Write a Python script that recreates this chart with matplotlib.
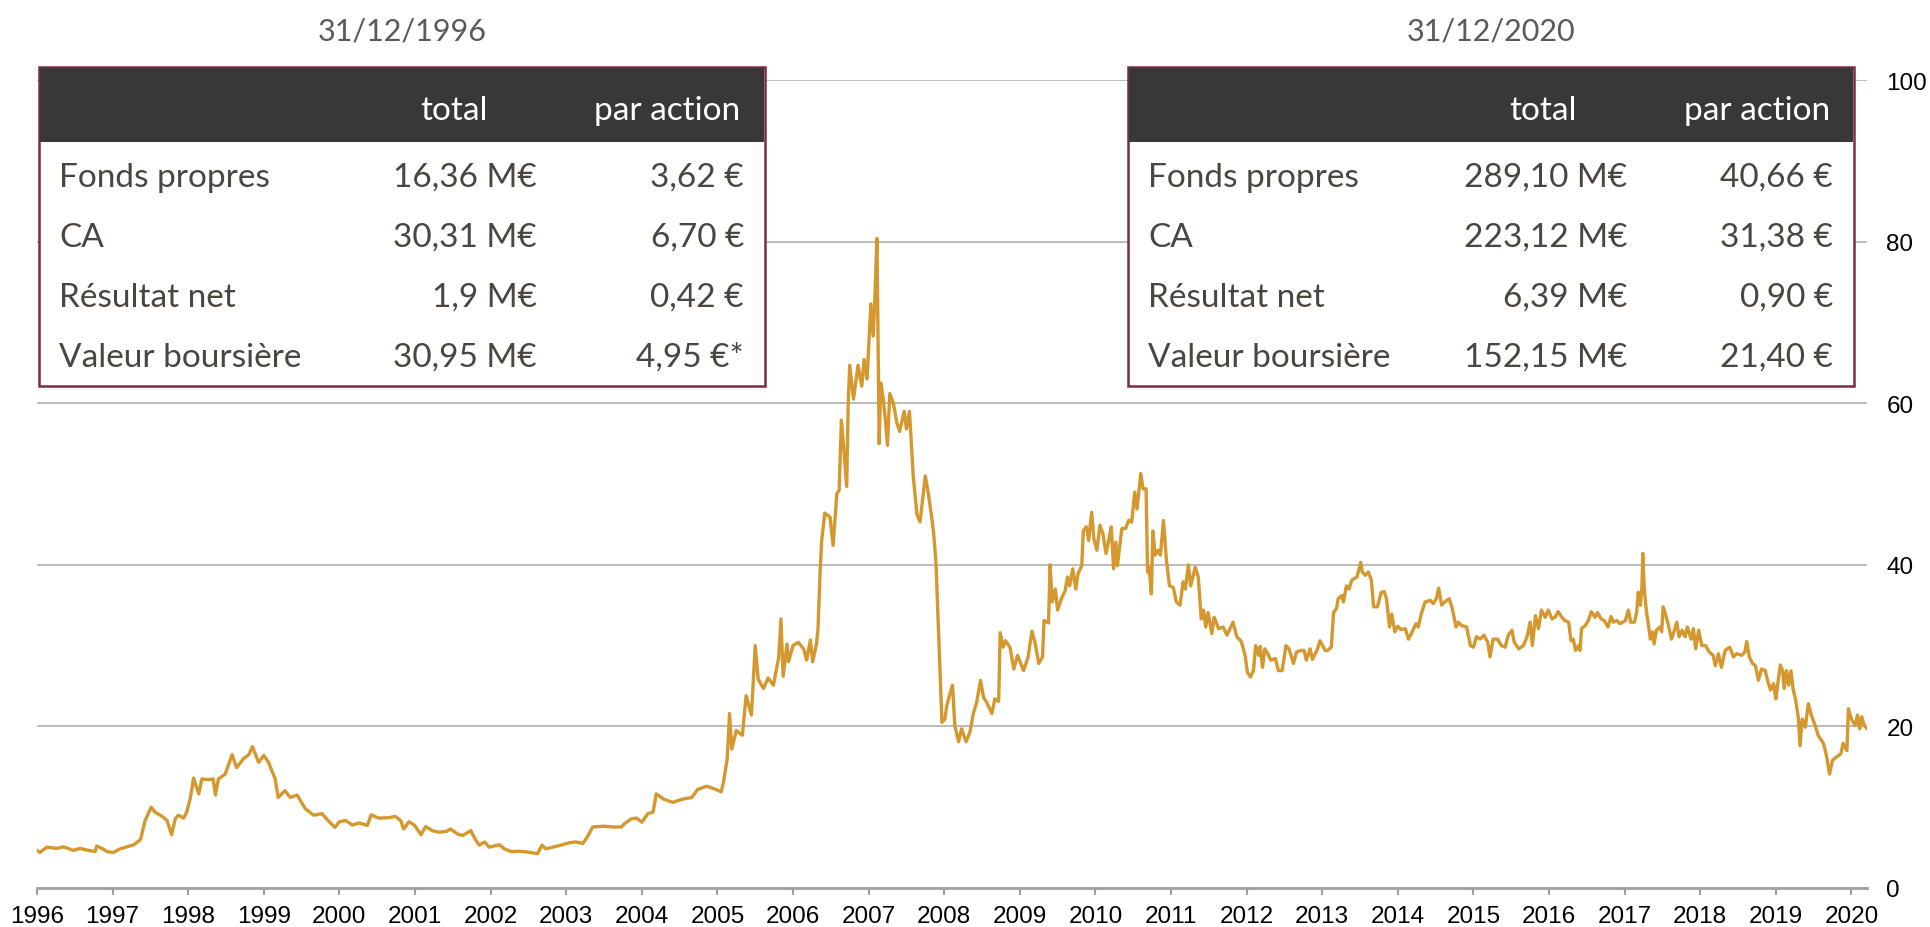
import matplotlib
matplotlib.use("Agg")
import matplotlib.pyplot as plt
from matplotlib.patches import Rectangle

# cours de l'action (annee decimale, valeur en euros)
dates = [
    1996.00, 1996.04, 1996.13, 1996.26, 1996.35, 1996.48, 1996.57, 1996.66, 1996.77, 1996.79,
    1996.86, 1996.93, 1997.01, 1997.10, 1997.19, 1997.28, 1997.37, 1997.43, 1997.51, 1997.56,
    1997.65, 1997.72, 1997.78, 1997.83, 1997.87, 1997.94, 1997.98, 1998.03, 1998.07, 1998.14,
    1998.18, 1998.27, 1998.33, 1998.36, 1998.40, 1998.49, 1998.58, 1998.64, 1998.73, 1998.80,
    1998.85, 1998.93, 1999.00, 1999.06, 1999.15, 1999.19, 1999.28, 1999.35, 1999.44, 1999.55,
    1999.66, 1999.77, 1999.85, 1999.94, 2000.00,
    2000.08, 2000.17, 2000.26, 2000.37, 2000.42, 2000.52, 2000.65, 2000.74, 2000.81, 2000.85,
    2000.92, 2000.99, 2001.08, 2001.14, 2001.23, 2001.32, 2001.41, 2001.47, 2001.56, 2001.63,
    2001.74, 2001.78, 2001.85, 2001.92, 2001.98, 2002.12, 2002.18, 2002.27, 2002.38, 2002.49,
    2002.62, 2002.68, 2002.73, 2002.82, 2002.93, 2003.04, 2003.13, 2003.22, 2003.29, 2003.35,
    2003.49, 2003.62, 2003.73, 2003.77, 2003.86, 2003.93, 2004.00, 2004.08, 2004.15, 2004.19,
    2004.29, 2004.41, 2004.54, 2004.66, 2004.74, 2004.86, 2004.98, 2005.05, 2005.08, 2005.13,
    2005.16, 2005.19, 2005.25,
    2005.33, 2005.38, 2005.45, 2005.50, 2005.54, 2005.61, 2005.67, 2005.74, 2005.81, 2005.84,
    2005.87, 2005.92, 2005.94, 2006.00, 2006.07, 2006.14, 2006.18, 2006.23, 2006.26, 2006.31,
    2006.33, 2006.36, 2006.38, 2006.42, 2006.49, 2006.53, 2006.58, 2006.61, 2006.64, 2006.67,
    2006.71, 2006.73, 2006.75, 2006.80, 2006.86, 2006.91, 2006.94, 2006.98, 2007.03, 2007.06,
    2007.08, 2007.11, 2007.12, 2007.14, 2007.16, 2007.19, 2007.22, 2007.25, 2007.28, 2007.33,
    2007.37, 2007.41, 2007.47, 2007.50, 2007.54, 2007.56, 2007.59, 2007.64, 2007.68, 2007.75,
    2007.79, 2007.83, 2007.86, 2007.89, 2007.92,
    2007.97, 2008.01, 2008.03, 2008.08, 2008.11, 2008.14, 2008.19, 2008.23, 2008.29, 2008.34,
    2008.385, 2008.43, 2008.48, 2008.52, 2008.56, 2008.63, 2008.67, 2008.72, 2008.74, 2008.78,
    2008.81, 2008.87, 2008.92, 2008.97, 2009.05, 2009.11, 2009.16, 2009.20, 2009.25, 2009.30,
    2009.32, 2009.38, 2009.40, 2009.43, 2009.47, 2009.50, 2009.55, 2009.60, 2009.63, 2009.66,
    2009.70, 2009.74, 2009.77, 2009.82, 2009.84, 2009.88, 2009.91, 2009.95, 2009.98, 2010.02,
    2010.06, 2010.10, 2010.14, 2010.18, 2010.21, 2010.24, 2010.27, 2010.29, 2010.35, 2010.40,
    2010.44, 2010.48, 2010.52, 2010.55, 2010.60, 2010.63, 2010.67, 2010.69, 2010.71, 2010.74,
    2010.76, 2010.79, 2010.83, 2010.86, 2010.90, 2010.94, 2010.98, 2011.03, 2011.07, 2011.12,
    2011.16, 2011.19, 2011.23, 2011.26, 2011.32, 2011.36, 2011.40, 2011.43, 2011.46, 2011.49,
    2011.54, 2011.57, 2011.63, 2011.69, 2011.74, 2011.82, 2011.87, 2011.93, 2011.98,
    2012.01, 2012.05, 2012.09, 2012.12, 2012.16, 2012.18, 2012.21, 2012.24, 2012.28, 2012.32,
    2012.38, 2012.42, 2012.47, 2012.52, 2012.56, 2012.62, 2012.66, 2012.72, 2012.76, 2012.79,
    2012.84, 2012.87, 2012.93, 2012.97, 2013.04, 2013.07, 2013.12, 2013.15, 2013.19, 2013.21,
    2013.26, 2013.28, 2013.32, 2013.355, 2013.39, 2013.46, 2013.51, 2013.53, 2013.57, 2013.61,
    2013.65, 2013.68, 2013.73, 2013.78, 2013.82, 2013.85, 2013.89, 2013.92, 2013.96, 2014.00,
    2014.04, 2014.10, 2014.14, 2014.18, 2014.24, 2014.27, 2014.31, 2014.36, 2014.43, 2014.47,
    2014.51, 2014.54, 2014.58, 2014.62, 2014.68, 2014.72, 2014.77, 2014.80, 2014.84, 2014.91,
    2014.96, 2015.00, 2015.04, 2015.09, 2015.14, 2015.19, 2015.22, 2015.26, 2015.32, 2015.37,
    2015.42, 2015.46, 2015.51, 2015.54, 2015.60, 2015.66, 2015.71, 2015.75, 2015.78, 2015.82,
    2015.86, 2015.90, 2015.95, 2015.99, 2016.04, 2016.08,
    2016.12, 2016.17, 2016.21, 2016.26, 2016.29, 2016.32, 2016.35, 2016.39, 2016.41, 2016.43,
    2016.48, 2016.52, 2016.56, 2016.61, 2016.64, 2016.69, 2016.73, 2016.78, 2016.82, 2016.85,
    2016.90, 2016.94, 2017.01, 2017.05, 2017.08, 2017.13, 2017.16, 2017.18, 2017.21, 2017.23,
    2017.24, 2017.26, 2017.29, 2017.31, 2017.34, 2017.37, 2017.39, 2017.42, 2017.47, 2017.49,
    2017.51, 2017.54, 2017.58, 2017.62, 2017.66, 2017.69, 2017.72, 2017.76, 2017.80, 2017.83,
    2017.88, 2017.91, 2017.94, 2017.98, 2018.02, 2018.07, 2018.12, 2018.17, 2018.20, 2018.24,
    2018.28, 2018.33, 2018.39, 2018.44, 2018.48, 2018.55, 2018.59, 2018.615, 2018.65, 2018.69,
    2018.73, 2018.77, 2018.81, 2018.86, 2018.89, 2018.93, 2018.97, 2019.00, 2019.02, 2019.06,
    2019.09, 2019.11, 2019.14, 2019.17, 2019.20, 2019.23, 2019.26, 2019.30, 2019.32, 2019.35,
    2019.39, 2019.43, 2019.47, 2019.52, 2019.56, 2019.63, 2019.67, 2019.71, 2019.75, 2019.80,
    2019.86, 2019.89, 2019.94, 2019.96, 2020.00, 2020.05, 2020.08, 2020.11, 2020.136, 2020.17,
    2020.20,
]
prices = [
    4.65, 4.4, 5.06, 4.9, 5.1, 4.65, 4.9, 4.7, 4.5, 5.2,
    4.9, 4.5, 4.4, 4.85, 5.1, 5.35, 6.0, 8.35, 10.0, 9.4,
    8.9, 8.35, 6.6, 8.6, 9.0, 8.65, 9.4, 11.2, 13.6, 11.65,
    13.5, 13.4, 13.5, 11.5, 13.5, 14.1, 16.5, 14.9, 16.0, 16.5,
    17.5, 15.55, 16.4, 15.6, 13.5, 11.2, 12.05, 11.2, 11.5, 9.8,
    9.0, 9.2, 8.35, 7.5, 8.2,
    8.35, 7.8, 8.05, 7.75, 9.05, 8.65, 8.7, 8.85, 8.35, 7.3,
    8.2, 7.8, 6.6, 7.6, 7.1, 6.9, 7.0, 7.3, 6.7, 6.5,
    7.1, 6.3, 5.3, 5.7, 5.05, 5.35, 4.85, 4.5, 4.55, 4.45,
    4.25, 5.3, 4.85, 5.05, 5.3, 5.6, 5.7, 5.5, 6.5, 7.55,
    7.65, 7.55, 7.55, 7.95, 8.55, 8.65, 8.15, 9.2, 9.4, 11.65,
    11.0, 10.6, 11.0, 11.2, 12.2, 12.6, 12.2, 11.9, 13.1, 16.0,
    21.6, 17.2, 19.5,
    18.9, 23.8, 21.4, 30.0, 25.8, 24.7, 26.0, 25.1, 28.5, 33.3,
    26.2, 30.2, 28.0, 30.0, 30.4, 29.6, 28.2, 30.7, 28.0, 30.2,
    32.0, 39.5, 43.1, 46.4, 45.9, 42.4, 48.8, 49.2, 57.9, 54.6,
    49.7, 59.9, 64.7, 60.5, 64.7, 62.1, 65.4, 63.0, 72.3, 68.3,
    72.3, 80.4, 72.3, 55.0, 62.5, 60.8, 58.1, 54.8, 61.2, 59.9,
    57.7, 56.5, 59.0, 56.8, 59.0, 55.9, 51.0, 46.2, 45.3, 51.0,
    48.8, 46.2, 43.9, 40.4, 32.9,
    20.5, 20.9, 22.4, 24.2, 25.1, 20.1, 18.1, 19.7, 18.1, 19.3,
    21.6, 23.0, 25.7, 23.6, 23.0, 21.6, 23.4, 23.1, 31.6, 29.8,
    30.6, 29.8, 27.1, 28.8, 26.9, 28.6, 31.8, 30.4, 27.8, 28.6,
    33.1, 32.8, 40.0, 35.4, 37.0, 34.4, 35.8, 36.8, 38.5, 37.4,
    39.5, 37.0, 38.9, 39.9, 44.2, 44.7, 43.0, 46.5, 43.2, 41.8,
    44.9, 43.8, 41.4, 43.2, 44.7, 39.5, 42.8, 39.9, 44.5, 44.5,
    45.5, 45.3, 49.0, 46.9, 51.3, 49.4, 49.4, 39.1, 39.7, 36.4,
    44.2, 41.2, 41.8, 41.2, 45.5, 40.5, 37.4, 37.2, 35.4, 35.0,
    37.9, 37.0, 40.0, 37.4, 39.7, 38.5, 33.3, 34.4, 32.3, 34.1,
    31.5, 33.5, 32.1, 32.3, 31.3, 32.9, 31.1, 30.5, 28.8,
    26.7, 26.1, 26.9, 30.0, 28.8, 29.9, 27.3, 29.6, 29.0, 28.2,
    28.4, 26.9, 26.9, 30.0, 29.6, 27.8, 29.2, 29.4, 29.4, 28.2,
    29.6, 28.3, 29.4, 30.6, 29.4, 29.4, 29.8, 34.1, 34.6, 35.8,
    36.2, 35.4, 37.4, 37.0, 38.1, 38.5, 40.3, 39.1, 38.7, 39.1,
    38.1, 34.8, 34.8, 36.6, 36.7, 35.8, 32.3, 33.9, 31.7, 32.4,
    32.0, 32.1, 30.8, 31.5, 32.7, 32.3, 33.9, 35.4, 35.6, 35.2,
    35.8, 37.1, 35.0, 35.4, 35.8, 34.6, 32.3, 32.9, 32.5, 32.3,
    30.0, 29.8, 31.1, 30.8, 31.3, 30.4, 28.6, 30.8, 30.8, 30.0,
    29.8, 31.3, 31.9, 30.4, 29.6, 30.0, 31.1, 32.9, 30.0, 33.7,
    32.1, 34.4, 33.5, 34.4, 33.3, 33.5,
    34.2, 33.5, 33.1, 32.9, 30.6, 30.8, 29.4, 30.0, 29.4, 32.1,
    32.5, 33.1, 34.2, 33.5, 34.1, 33.3, 33.1, 32.3, 33.6, 32.9,
    33.1, 32.7, 33.1, 34.4, 32.9, 32.9, 34.2, 36.6, 35.0, 37.4,
    41.4, 37.0, 34.1, 32.9, 30.8, 31.7, 30.2, 31.9, 32.3, 31.7,
    34.8, 33.9, 32.5, 30.8, 31.9, 32.9, 31.1, 31.9, 31.1, 32.3,
    30.8, 32.1, 29.6, 31.9, 30.0, 30.0, 29.2, 28.8, 27.5, 29.0,
    27.3, 29.4, 29.8, 28.6, 29.0, 28.8, 29.2, 30.5, 28.6, 27.8,
    27.5, 25.7, 27.1, 26.9, 25.7, 24.5, 25.3, 23.4, 24.9, 27.6,
    26.9, 24.7, 26.9, 25.1, 26.9, 24.5, 23.4, 20.9, 17.6, 20.9,
    19.9, 22.8, 21.4, 20.1, 18.9, 17.9, 16.4, 14.1, 15.8, 16.2,
    16.6, 17.9, 17.0, 22.2, 20.9, 20.1, 21.4, 19.7, 21.2, 20.1,
    19.8,
]

years = list(range(1996, 2021))
yticks = [0, 20, 40, 60, 80, 100]

# tableaux
col_head = ["total", "par action"]
row_labels = ["Fonds propres", "CA", "Résultat net", "Valeur boursière"]
title_1996 = "31/12/1996"
total_1996 = ["16,36 M€", "30,31 M€", "1,9 M€", "30,95 M€"]
action_1996 = ["3,62 €", "6,70 €", "0,42 €", "4,95 €*"]
title_2020 = "31/12/2020"
total_2020 = ["289,10 M€", "223,12 M€", "6,39 M€", "152,15 M€"]
action_2020 = ["40,66 €", "31,38 €", "0,90 €", "21,40 €"]

W, H = 1930, 928
fig = plt.figure(figsize=(W / 100, H / 100), dpi=100)
ax = fig.add_axes([37 / W, 1 - 889 / H, (1867 - 37) / W, (889 - 81) / H])

ax.plot(dates, prices, color="#d4982e", lw=2.4, zorder=3)
ax.set_xlim(1996, 2020.206)
ax.set_ylim(0, 100)
ax.set_xticks(years)
ax.set_xticklabels([str(y) for y in years])
ax.set_yticks(yticks)
ax.yaxis.tick_right()
ax.grid(axis="y", color="#b0b0b0", lw=1.2)
ax.set_axisbelow(True)
for s in ["top", "left", "right"]:
    ax.spines[s].set_visible(False)
ax.spines["bottom"].set_color("#a0a0a0")
ax.spines["bottom"].set_linewidth(2)
ax.tick_params(axis="x", length=5, width=1.5, color="#a0a0a0", pad=7,
               labelsize=17.5, labelcolor="black")
ax.tick_params(axis="y", length=0, pad=14, labelsize=17.5, labelcolor="black")
for lab in ax.get_xticklabels() + ax.get_yticklabels():
    lab.set_family("Liberation Sans")

# calque pour les tableaux, en pixels
ov = fig.add_axes([0, 0, 1, 1])
ov.set_xlim(0, W)
ov.set_ylim(H, 0)
ov.axis("off")

fnt = dict(family="Lato", weight="normal", size=24)
txt_col = "#4a453f"


def table(x0, x1, title, totals, actions, tot_x, act_x, head_tot_x, head_act_x, lab_x):
    ov.add_patch(Rectangle((x0, 68), x1 - x0, 319, facecolor="white",
                           edgecolor="#7b2a48", lw=1.8, zorder=2))
    ov.add_patch(Rectangle((x0 + 1, 69), x1 - x0 - 2, 74, facecolor="#383838",
                           edgecolor="none", zorder=3))
    ov.text((x0 + x1) / 2, 40, title, ha="center", va="baseline", color="#5a5a5a",
            family="Lato", weight="normal", size=22)
    ov.text(head_tot_x, 120, col_head[0], ha="right", va="baseline", color="white", zorder=4, **fnt)
    ov.text(head_act_x, 120, col_head[1], ha="right", va="baseline", color="white", zorder=4, **fnt)
    for i, lab in enumerate(row_labels):
        yb = 187 + i * 60
        ov.text(lab_x, yb, lab, ha="left", va="baseline", color=txt_col, zorder=4, **fnt)
        ov.text(tot_x, yb, totals[i], ha="right", va="baseline", color=txt_col, zorder=4, **fnt)
        ov.text(act_x, yb, actions[i], ha="right", va="baseline", color=txt_col, zorder=4, **fnt)


table(39, 765, title_1996, total_1996, action_1996, 537, 744, 488, 740, 59)
table(1128, 1854, title_2020, total_2020, action_2020, 1627, 1833, 1577, 1830, 1148)

fig.savefig("out.png", dpi=100)
